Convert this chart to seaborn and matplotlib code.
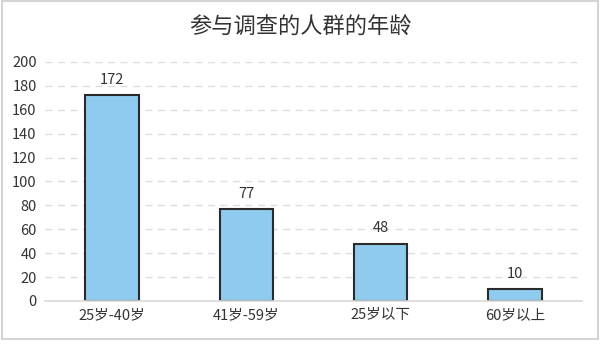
import pandas as pd
import seaborn as sns
import matplotlib.pyplot as plt
from matplotlib.patches import Rectangle

# data
categories = ["25岁-40岁", "41岁-59岁", "25岁以下", "60岁以上"]
counts = [172, 77, 48, 10]
title = "参与调查的人群的年龄"

df = pd.DataFrame({"age": categories, "count": counts})

sns.set_style("white")
plt.rcParams["font.family"] = ["Noto Sans CJK SC", "DejaVu Sans"]

fig = plt.figure(figsize=(6, 3.51), dpi=100)
ax = fig.add_axes([0.075, 0.1425, 0.895, 0.681])

sns.barplot(
    data=df,
    x="age",
    y="count",
    color="#8fcbee",
    saturation=1,
    width=0.4,
    edgecolor="#2b2b2b",
    linewidth=1.5,
    ax=ax,
)

for i, v in enumerate(counts):
    ax.text(i, v + 7, str(v), ha="center", va="bottom", fontsize=10.5, color="#333333")

ax.set_ylim(0, 200)
ax.set_yticks(range(0, 201, 20))
ax.set_xlim(-0.5, len(categories) - 0.5)
ax.yaxis.grid(True, linestyle=(0, (5, 4)), color="#dddddd", linewidth=1)
ax.set_axisbelow(True)
for s in ["top", "right", "left"]:
    ax.spines[s].set_visible(False)
ax.spines["bottom"].set_color("#d9d9d9")
ax.spines["bottom"].set_linewidth(1.2)
ax.tick_params(axis="both", length=0, labelsize=10.5, colors="#333333")
ax.tick_params(axis="y", pad=6)
ax.tick_params(axis="x", pad=5)
ax.set_xlabel("")
ax.set_ylabel("")

fig.text(0.5, 0.922, title, ha="center", va="center", fontsize=16, color="#333333")

# outer border of the chart card
fig.patches.append(
    Rectangle((2 / 600, 1 - 339 / 351), 596 / 600, 338 / 351,
              transform=fig.transFigure, fill=False, edgecolor="#cccccc", linewidth=1.2)
)

fig.savefig("out.png", dpi=100)
